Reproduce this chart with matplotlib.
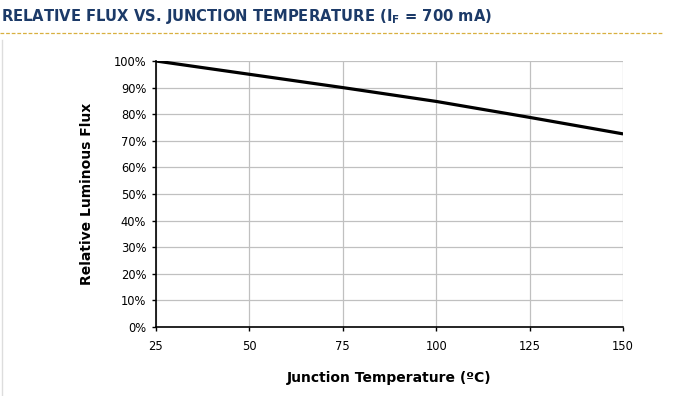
import matplotlib as mpl
mpl.use('Agg')
import matplotlib.pyplot as plt
from matplotlib.lines import Line2D
from matplotlib.ticker import PercentFormatter

# junction temperature (C) vs relative luminous flux (%)
temp = [25, 50, 75, 100, 125, 150]
flux = [100, 95, 90, 84.8, 78.8, 72.6]
x_ticks = [25, 50, 75, 100, 125, 150]
y_ticks = list(range(0, 101, 10))

fig = plt.figure(figsize=(6.81, 3.96), dpi=100)
ax = fig.add_axes([0.229, 0.174, 0.686, 0.672])

ax.plot(temp, flux, color='black', lw=2.3, solid_capstyle='butt', zorder=3)
ax.set_xlim(25, 150)
ax.set_ylim(0, 100)
ax.set_xticks(x_ticks)
ax.set_yticks(y_ticks)
ax.yaxis.set_major_formatter(PercentFormatter(decimals=0))
ax.grid(True, color='#c0c0c0', lw=0.9)
ax.set_axisbelow(True)
for s in ['top', 'right']:
    ax.spines[s].set_visible(False)
for s in ['left', 'bottom']:
    ax.spines[s].set_color('black')
    ax.spines[s].set_linewidth(1.2)
ax.tick_params(axis='both', labelsize=8.3, length=3, width=1, color='black', pad=4)
ax.tick_params(axis='x', pad=6)

ax.set_xlabel('Junction Temperature (ºC)', fontsize=10, fontweight='bold', labelpad=13)
ax.set_ylabel('Relative Luminous Flux', fontsize=10, fontweight='bold', labelpad=14)

plt.rcParams['mathtext.fontset'] = 'dejavusans'
fig.text(0.001, 0.958, r'RELATIVE FLUX VS. JUNCTION TEMPERATURE (I$_{\mathbf{F}}$ = 700 mA)',
         fontsize=10.6, fontweight='bold', color='#1c3a68', ha='left', va='center')
fig.add_artist(Line2D([0, 0.972], [0.917, 0.917], transform=fig.transFigure,
                      color='#d8b040', lw=0.9, ls=(0, (3, 1.5))))
fig.add_artist(Line2D([0.003, 0.003], [0.0, 0.9], transform=fig.transFigure,
                      color='#dddddd', lw=1))

fig.savefig('out.png', dpi=100)
